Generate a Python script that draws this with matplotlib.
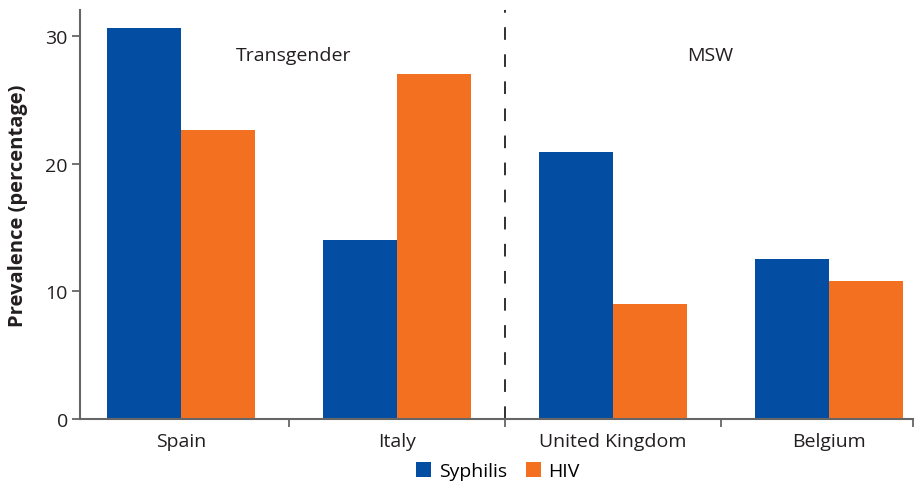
import matplotlib
matplotlib.use("Agg")
import matplotlib.pyplot as plt
import numpy as np

countries = ["Spain", "Italy", "United Kingdom", "Belgium"]
syphilis = [30.6, 14.0, 20.9, 12.5]
hiv = [22.6, 27.0, 9.0, 10.8]
yticks = [0, 10, 20, 30]

plt.rcParams['font.family'] = ['Open Sans', 'DejaVu Sans']
blue = '#034ea2'
orange = '#f37021'
axcol = '#666666'
fs = 14

fig = plt.figure(figsize=(9.14, 4.89), dpi=100)
ax = fig.add_axes([0.088, 0.141, 0.911, 0.836])

x = np.arange(len(countries))
w = 0.343
ax.bar(x - w/2, syphilis, w, color=blue, label='Syphilis')
ax.bar(x + w/2, hiv, w, color=orange, label='HIV')

ax.set_xlim(-0.465, 3.39)
ax.set_ylim(0, 32)
ax.set_yticks(yticks)
ax.set_xticks(x)
ax.set_xticklabels(countries, fontsize=fs, color='#231f20')
ax.tick_params(axis='x', which='major', length=0, pad=9)
ax.set_xticks([0.5, 1.5, 2.5, 3.39], minor=True)
ax.tick_params(axis='x', which='minor', length=6, width=1.3, color=axcol, direction='out')
ax.tick_params(axis='y', length=6, width=1.3, color=axcol, labelsize=fs, labelcolor='#231f20', pad=3)

for s in ['top', 'right']:
    ax.spines[s].set_visible(False)
for s in ['left', 'bottom']:
    ax.spines[s].set_color(axcol)
    ax.spines[s].set_linewidth(1.5)

ax.axvline(1.5, ymin=0, ymax=1, color='#231f20', lw=1.3, linestyle=(0, (7, 8)))
ax.text(0.52, 28.5, 'Transgender', ha='center', va='center', fontsize=fs, color='#231f20')
ax.text(2.45, 28.5, 'MSW', ha='center', va='center', fontsize=fs, color='#231f20')

ax.set_ylabel('Prevalence (percentage)', fontsize=14.5, fontweight='bold', color='#231f20')
ax.yaxis.set_label_coords(-0.063, 0.525)

fig.legend(loc='lower center', bbox_to_anchor=(0.545, -0.02), ncol=2, frameon=False,
           fontsize=fs, handlelength=0.75, handleheight=0.75, handletextpad=0.4, columnspacing=1.0)

fig.savefig('out.png', dpi=100)
